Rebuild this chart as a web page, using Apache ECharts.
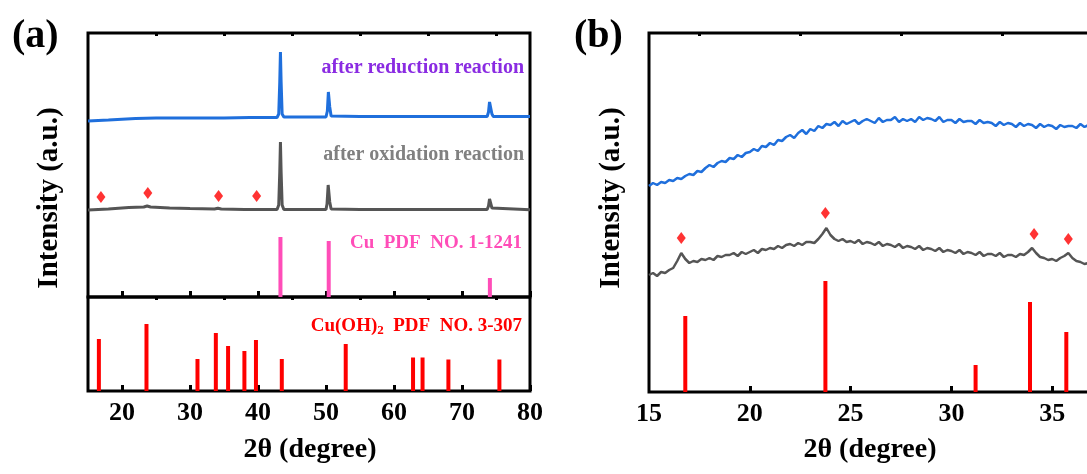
<!DOCTYPE html>
<html>
<head>
<meta charset="utf-8">
<script src="https://cdn.jsdelivr.net/npm/echarts@6/dist/echarts.min.js"></script>
<style>
  html, body { margin: 0; padding: 0; background: #fff; }
  #chart { width: 1087px; height: 474px; }
</style>
</head>
<body>
<div id="chart"></div>
<script>
// ---- panel (a): XRD after reactions, 2theta 15-80 ----
const reductionA = [[15,176],[18,177],[22,178.5],[25,179],[30,179],[35,179],[38.8,179.5],[39,181],[39.2,179.5],[42.8,179.5],
  [43.05,183],[43.2,215],[43.3,245],[43.4,215],[43.55,183],[43.8,180],[50,180],[50.2,186],[50.35,205],[50.45,207],
  [50.55,190],[50.75,181],[55,180.5],[60,180.5],[65,180.5],[70,180.5],[73.7,180.5],[73.9,185],[74.05,195],[74.2,193],
  [74.4,183],[74.6,180.5],[80,180.5]];
const oxidationA = [[15,87],[18,88],[21,89.5],[23.2,90],[23.7,91],[24.2,90],[27,89],[30,88.5],[33.6,88],[34.1,88.8],
  [34.6,88],[38,87.5],[42.8,87.5],[43.05,92],[43.2,125],[43.3,155],[43.4,125],[43.55,92],[43.8,87.5],[50,87.5],
  [50.15,93],[50.32,112],[50.42,114],[50.55,95],[50.75,88],[55,87.5],[60,87.5],[65,87.5],[70,87.5],[73.7,87.5],
  [73.9,91],[74.05,98],[74.2,96],[74.4,89],[74.6,87.5],[80,87.3]];
const diamondsA = [[16.9,100],[23.8,104],[34.2,101],[39.8,101]];
const cuRef = [[43.3,60],[50.4,56],[74.1,19]];
const cuOHRefA = [[16.6,52],[23.6,67],[31.1,32],[33.8,58],[35.6,45],[38.0,40],[39.7,51],[43.5,32],[52.9,47],
  [62.8,33.5],[64.2,33.5],[68.0,31.5],[75.5,31.5]];

// ---- panel (b): zoom 15-40 ----
const bStart = 15, bStep = 0.2;
const reductionB = [206,209,207,210,209, 212,211,214,213,216, 218,217,221,220,224, 227,225,229,231,230,
  234,233,237,235,239, 240,243,241,246,245, 249,247,252,251,255, 257,254,259,262,258,
  263,261,266,264,268, 267,270,266,271,268, 270,272,268,271,273, 271,269,274,270,272,
  272,275,270,273,271, 273,270,275,272,274, 273,271,275,270,272, 272,269,273,270,271,
  271,268,272,269,270, 269,266,270,267,269, 268,265,269,266,268, 267,264,268,265,267,
  266,263,267,265,266, 266,264,268,265,267, 267];
const oxidationB = [117,119,116,120,119, 122,124,131,139,133, 129,131,130,133,132, 134,132,136,135,137,
  137,139,136,140,138, 140,142,139,143,142, 144,143,146,144,147, 148,146,149,147,150,
  150,149,153,158,164, 157,153,151,153,150, 151,149,152,148,150, 149,147,150,146,148,
  147,145,148,144,146, 145,143,146,142,144, 143,141,144,140,142, 141,139,142,138,140,
  139,137,140,136,138, 138,136,139,135,137, 137,135,138,137,140, 144,139,135,134,132,
  133,131,134,136,139, 134,131,130,128,129, 128];
const diamondsB = [[16.6,154],[23.75,179],[34.1,158],[35.8,153]];
const cuOHRefB = [[16.8,76],[23.75,111],[31.2,27],[33.9,90],[35.7,60],[38.2,55],[39.8,80]];

const ticksA = [20,30,40,50,60,70,80];
const minorTicksA = [25,35,45,55,65,75];
const ticksB = [15,20,25,30,35,40];
const minorTicksB = [17.5,22.5,27.5,32.5,37.5];

const withX = (arr) => arr.map((v, i) => [+(bStart + i * bStep).toFixed(2), v]);

const serif = '"Liberation Serif", "Times New Roman", serif';
const BLUE = '#1f6fdc', GRAY = '#555555', RED = '#ff0000', PINK = '#ff4db8';

function xAxisPair(grid, min, max, interval, major, minor, labels) {
  return [
    {
      type: 'value', gridIndex: grid, min: min, max: max, interval: interval,
      axisLine: { show: false }, splitLine: { show: false },
      axisTick: { inside: true, length: 6, customValues: major, lineStyle: { color: '#000', width: 3 } },
      axisLabel: labels
        ? { customValues: labels, margin: 9, color: '#000', fontFamily: serif, fontWeight: 'bold', fontSize: 26 }
        : { show: false }
    },
    {
      type: 'value', gridIndex: grid, min: min, max: max, interval: interval,
      axisLine: { show: false }, splitLine: { show: false },
      axisTick: { inside: true, length: 3, customValues: minor, lineStyle: { color: '#000', width: 3 } },
      axisLabel: { show: false }
    }
  ];
}

function yAxis(grid, max) {
  return { type: 'value', gridIndex: grid, min: 0, max: max, show: false };
}

const gridStyle = { show: true, borderColor: '#000', borderWidth: 3, backgroundColor: 'transparent',
  containLabel: false, outerBoundsMode: 'none' };

const chart = echarts.init(document.getElementById('chart'));
chart.setOption({
  animation: false,
  backgroundColor: '#fff',
  grid: [
    Object.assign({ left: 88, top: 33, width: 442, height: 264 }, gridStyle),
    Object.assign({ left: 88, top: 297, width: 442, height: 94 }, gridStyle),
    Object.assign({ left: 649, top: 33, width: 504, height: 359 }, gridStyle)
  ],
  xAxis: [
    ...xAxisPair(0, 15, 80, 5, ticksA, minorTicksA, null),
    ...xAxisPair(1, 15, 80, 5, ticksA, minorTicksA, [20,30,40,50,60,70,80]),
    ...xAxisPair(2, 15, 40, 2.5, ticksB.slice(1), minorTicksB, ticksB)
  ],
  yAxis: [yAxis(0, 264), yAxis(1, 94), yAxis(2, 359)],
  series: [
    { name: 'after reduction reaction', type: 'line', xAxisIndex: 0, yAxisIndex: 0, data: reductionA,
      showSymbol: false, lineStyle: { color: BLUE, width: 3 } },
    { name: 'after oxidation reaction', type: 'line', xAxisIndex: 0, yAxisIndex: 0, data: oxidationA,
      showSymbol: false, lineStyle: { color: GRAY, width: 3 } },
    { name: 'Cu(OH)2 peaks', type: 'scatter', xAxisIndex: 0, yAxisIndex: 0, data: diamondsA,
      symbol: 'diamond', symbolSize: [9, 12], itemStyle: { color: RED } },
    { name: 'Cu PDF', type: 'bar', xAxisIndex: 0, yAxisIndex: 0, data: cuRef, barWidth: 4,
      itemStyle: { color: PINK } },
    { name: 'Cu(OH)2 PDF', type: 'bar', xAxisIndex: 2, yAxisIndex: 1, data: cuOHRefA, barWidth: 4,
      itemStyle: { color: RED } },
    { name: 'reduction (b)', type: 'line', xAxisIndex: 4, yAxisIndex: 2, data: withX(reductionB),
      showSymbol: false, lineStyle: { color: BLUE, width: 2.5 } },
    { name: 'oxidation (b)', type: 'line', xAxisIndex: 4, yAxisIndex: 2, data: withX(oxidationB),
      showSymbol: false, lineStyle: { color: GRAY, width: 2.5 } },
    { name: 'diamonds (b)', type: 'scatter', xAxisIndex: 4, yAxisIndex: 2, data: diamondsB,
      symbol: 'diamond', symbolSize: [9, 12], itemStyle: { color: RED } },
    { name: 'Cu(OH)2 PDF (b)', type: 'bar', xAxisIndex: 4, yAxisIndex: 2, data: cuOHRefB, barWidth: 4,
      itemStyle: { color: RED } }
  ],
  graphic: [
    { type: 'text', left: 12, top: 17, style: { text: '(a)', font: 'bold 40px ' + serif, fill: '#000' } },
    { type: 'text', left: 574, top: 17, style: { text: '(b)', font: 'bold 40px ' + serif, fill: '#000' } },
    { type: 'text', x: 50, y: 198, rotation: Math.PI / 2,
      style: { text: 'Intensity (a.u.)', font: 'bold 29px ' + serif, fill: '#000', align: 'center', verticalAlign: 'middle' } },
    { type: 'text', x: 612, y: 198, rotation: Math.PI / 2,
      style: { text: 'Intensity (a.u.)', font: 'bold 29px ' + serif, fill: '#000', align: 'center', verticalAlign: 'middle' } },
    { type: 'text', x: 310, y: 450,
      style: { text: '2θ (degree)', font: 'bold 28px ' + serif, fill: '#000', align: 'center', verticalAlign: 'middle' } },
    { type: 'text', x: 870, y: 450,
      style: { text: '2θ (degree)', font: 'bold 28px ' + serif, fill: '#000', align: 'center', verticalAlign: 'middle' } },
    { type: 'text', x: 524, y: 68,
      style: { text: 'after reduction reaction', font: 'bold 20px ' + serif, fill: '#8a2be2', align: 'right', verticalAlign: 'middle' } },
    { type: 'text', x: 524, y: 155,
      style: { text: 'after oxidation reaction', font: 'bold 20px ' + serif, fill: '#808080', align: 'right', verticalAlign: 'middle' } },
    { type: 'text', x: 522, y: 243,
      style: { text: 'Cu  PDF  NO. 1-1241', font: 'bold 19px ' + serif, fill: PINK, align: 'right', verticalAlign: 'middle' } },
    { type: 'text', x: 522, y: 326,
      style: {
        text: '{n|Cu(OH)}{s|2}{n|  PDF  NO. 3-307}', align: 'right', verticalAlign: 'middle',
        rich: {
          n: { font: 'bold 19px ' + serif, fill: RED, color: RED },
          s: { font: 'bold 13px ' + serif, fill: RED, color: RED, padding: [10, 0, 0, 0] }
        }
      } }
  ]
});
</script>
</body>
</html>
